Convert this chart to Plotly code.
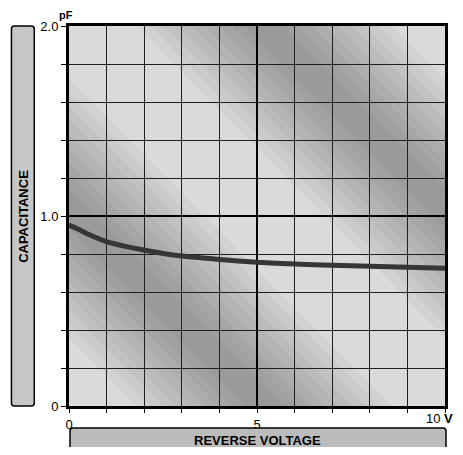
import plotly.graph_objects as go

# ---- data ----
voltage = [0, 0.25, 0.5, 1, 1.5, 2, 2.5, 3, 4, 5, 6, 7, 8, 9, 10]
capacitance = [0.953, 0.93, 0.905, 0.865, 0.84, 0.821, 0.803, 0.789, 0.771, 0.756, 0.747, 0.741, 0.735, 0.730, 0.725]

x_ticks = [0, 1, 2, 3, 4, 5, 6, 7, 8, 9, 10]
x_tick_labels = ["0", "", "", "", "", "5", "", "", "", "", ""]
y_ticks = [0, 0.2, 0.4, 0.6, 0.8, 1.0, 1.2, 1.4, 1.6, 1.8, 2.0]
y_tick_labels = ["0", "", "", "", "", "1.0", "", "", "", "", "2.0"]

OFF = 8  # page body margin
W, H = 463 - 2 * OFF, 455 - 2 * OFF
PX_L, PX_R, PX_T, PX_B = 69, 448, 26, 406  # plot area in screen pixels
L = PX_L - OFF
T = PX_T - OFF
R = W - (PX_R - OFF)
B = H - (PX_B - OFF)
pw, ph = PX_R - PX_L, PX_B - PX_T


def px(xs):
    return (xs - PX_L) / pw


def py(ys):
    return (PX_B - ys) / ph


FONT = "Liberation Sans Narrow, Arial Narrow, Liberation Sans, sans-serif"

fig = go.Figure()

# thick reference lines at 5 V and 1.0 pF (drawn under the curve)
fig.add_trace(go.Scatter(x=[5, 5], y=[0, 2.0], mode="lines",
                         line=dict(color="black", width=2), hoverinfo="skip", showlegend=False))
fig.add_trace(go.Scatter(x=[0, 10], y=[1.0, 1.0], mode="lines",
                         line=dict(color="black", width=2), hoverinfo="skip", showlegend=False))

fig.add_trace(go.Scatter(
    x=voltage, y=capacitance, mode="lines",
    line=dict(color="#363636", width=5, shape="spline", smoothing=0.6),
    hoverinfo="skip", showlegend=False,
))


# ---- decorative halftone-like diagonal shading (clipped bands) ----
def clip_band(a, b):
    """polygon of unit square where a <= u+v <= b"""
    pts = [(0, 0), (1, 0), (1, 1), (0, 1)]

    def clip(poly, f):
        out = []
        n = len(poly)
        for i in range(n):
            p, q = poly[i], poly[(i + 1) % n]
            fp, fq = f(p), f(q)
            if fp >= 0:
                out.append(p)
            if (fp >= 0) != (fq >= 0):
                t = fp / (fp - fq)
                out.append((p[0] + t * (q[0] - p[0]), p[1] + t * (q[1] - p[1])))
        return out

    poly = clip(pts, lambda p: p[0] + p[1] - a)
    poly = clip(poly, lambda p: b - (p[0] + p[1]))
    return poly


shapes = []
for c in (0.52, 1.52):
    for k in range(9):
        hw = 0.34 - k * 0.036
        poly = clip_band(c - hw, c + hw)
        if len(poly) < 3:
            continue
        path = "M " + " L ".join(f"{p[0]:.4f},{p[1]:.4f}" for p in poly) + " Z"
        shapes.append(dict(type="path", path=path, xref="x domain", yref="y domain",
                           fillcolor="rgba(0,0,0,0.036)", line=dict(width=0), layer="below"))


def rounded_box(x0, y0, x1, y1, rx, ry):
    return (f"M {x0+rx},{y0} L {x1-rx},{y0} Q {x1},{y0} {x1},{y0+ry} "
            f"L {x1},{y1-ry} Q {x1},{y1} {x1-rx},{y1} L {x0+rx},{y1} "
            f"Q {x0},{y1} {x0},{y1-ry} L {x0},{y0+ry} Q {x0},{y0} {x0+rx},{y0} Z")


rx, ry = 3 / pw, 3 / ph
# left label box
shapes.append(dict(type="path", xref="paper", yref="paper",
                   path=rounded_box(px(11), py(406), px(34), py(26), rx, ry),
                   fillcolor="#c6c6c6", line=dict(color="black", width=1.5)))
# bottom label box
shapes.append(dict(type="path", xref="paper", yref="paper",
                   path=rounded_box(px(70), py(451), px(449), py(428), rx, ry),
                   fillcolor="#bcbcbc", line=dict(color="black", width=1.5)))

annotations = [
    dict(text="<b>CAPACITANCE</b>", xref="paper", yref="paper",
         x=px(22.5), y=py(216), textangle=-90, showarrow=False,
         font=dict(family="Liberation Sans, Arial, sans-serif", size=13, color="black"),
         xanchor="center", yanchor="middle"),
    dict(text="<b>REVERSE VOLTAGE</b>", xref="paper", yref="paper",
         x=px(259), y=py(440), showarrow=False,
         font=dict(family="Liberation Sans, Arial, sans-serif", size=13, color="black"),
         xanchor="center", yanchor="middle"),
    dict(text="<b>pF</b>", xref="paper", yref="paper",
         x=px(66), y=py(8), showarrow=False, borderpad=0,
         font=dict(family="Liberation Sans, Arial, sans-serif", size=11, color="black"),
         xanchor="center", yanchor="top"),
    dict(text="10 <b>V</b>", xref="paper", yref="paper",
         x=px(458), y=py(418), showarrow=False,
         font=dict(family=FONT, size=13, color="black"),
         xanchor="right", yanchor="middle"),
]

fig.update_layout(
    width=W, height=H,
    margin=dict(l=L, r=R, t=T, b=B),
    paper_bgcolor="white",
    plot_bgcolor="#dadada",
    shapes=shapes,
    annotations=annotations,
    showlegend=False,
    font=dict(family=FONT, size=12, color="black"),
)

fig.update_xaxes(
    range=[0, 10], tickmode="array", tickvals=x_ticks, ticktext=x_tick_labels,
    ticks="outside", ticklen=4, tickwidth=1, tickcolor="black",
    showgrid=True, gridcolor="#1e1e1e", gridwidth=1,
    showline=True, linecolor="black", linewidth=3, mirror=True,
    zeroline=False, tickfont=dict(family=FONT, size=13),
)
fig.update_yaxes(
    range=[0, 2.0], tickmode="array", tickvals=y_ticks, ticktext=y_tick_labels,
    ticks="outside", ticklen=5, tickwidth=1, tickcolor="black",
    showgrid=True, gridcolor="#1e1e1e", gridwidth=1,
    showline=True, linecolor="black", linewidth=3, mirror=True,
    zeroline=False, tickfont=dict(family=FONT, size=13),
)

fig.write_html("out.html")
